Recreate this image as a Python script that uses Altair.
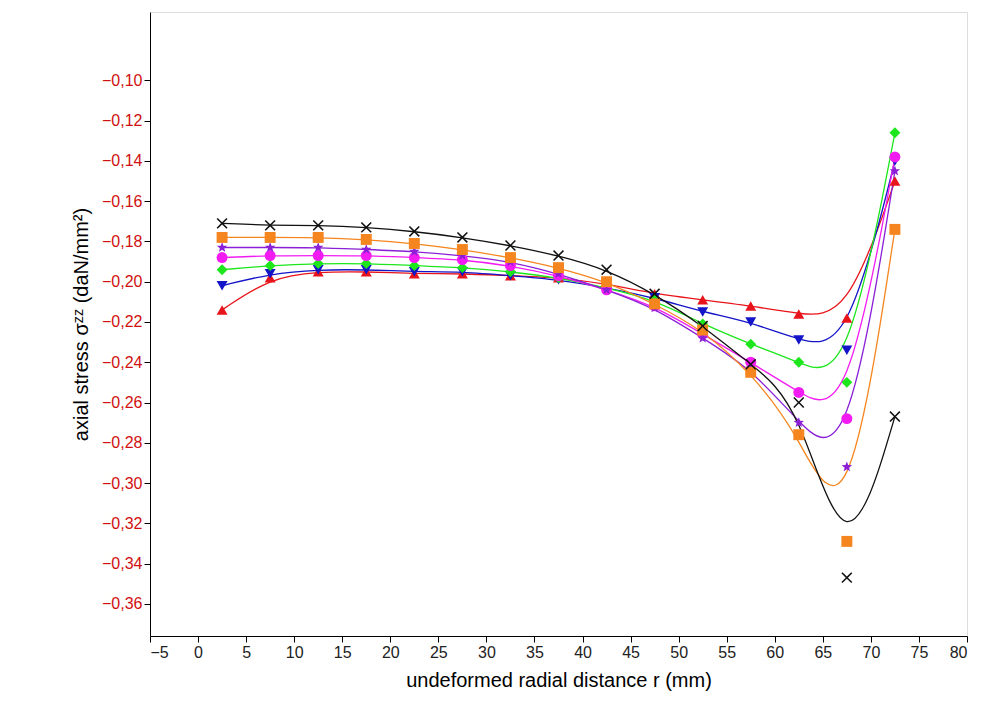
import math
import pandas as pd
import altair as alt

r = [2.5, 7.5, 12.5, 17.5, 22.5, 27.5, 32.5, 37.5, 42.5, 47.5, 52.5, 57.5, 62.5, 67.5, 72.5]

layer_l1 = [-0.214, -0.198, -0.195, -0.195, -0.196, -0.196, -0.197, -0.198, -0.201, -0.206, -0.209, -0.212, -0.216, -0.218, -0.150]
layer_l2 = [-0.202, -0.196, -0.194, -0.194, -0.195, -0.195, -0.197, -0.199, -0.203, -0.208, -0.215, -0.220, -0.229, -0.234, -0.140]
layer_l3 = [-0.194, -0.192, -0.191, -0.191, -0.192, -0.193, -0.195, -0.198, -0.203, -0.209, -0.221, -0.231, -0.240, -0.250, -0.126]
layer_l4 = [-0.188, -0.187, -0.187, -0.187, -0.188, -0.189, -0.192, -0.197, -0.204, -0.212, -0.226, -0.240, -0.255, -0.268, -0.138]
layer_l5 = [-0.183, -0.183, -0.183, -0.184, -0.185, -0.187, -0.190, -0.196, -0.204, -0.213, -0.228, -0.243, -0.270, -0.292, -0.145]
layer_l6 = [-0.178, -0.178, -0.178, -0.179, -0.181, -0.184, -0.188, -0.193, -0.200, -0.211, -0.224, -0.245, -0.276, -0.329, -0.174]
layer_l7 = [-0.171, -0.172, -0.172, -0.173, -0.175, -0.178, -0.182, -0.187, -0.194, -0.206, -0.222, -0.241, -0.260, -0.347, -0.267]

layers = ["Layer L1", "Layer L2", "Layer L3", "Layer L4", "Layer L5", "Layer L6", "Layer L7"]
series = [layer_l1, layer_l2, layer_l3, layer_l4, layer_l5, layer_l6, layer_l7]
colors = ["#e8141b", "#1414c8", "#1de61d", "#f21bf2", "#8a1fd6", "#f5861f", "#111111"]

# star and thin x symbols as svg paths
star = "M" + "L".join(
    f"{(1 if i % 2 == 0 else 0.42) * math.sin(i * math.pi / 5):.3f},"
    f"{-(1 if i % 2 == 0 else 0.42) * math.cos(i * math.pi / 5):.3f}"
    for i in range(10)) + "Z"
thin_x = "M-1,-0.8L-0.8,-1L0,-0.2L0.8,-1L1,-0.8L0.2,0L1,0.8L0.8,1L0,0.2L-0.8,1L-1,0.8L-0.2,0Z"
shapes = ["triangle-up", "triangle-down", "diamond", "circle", star, "square", thin_x]

# legend fills row by row, so order it to read column-wise like the original
legend_order = [0, 4, 1, 5, 2, 6, 3]
dom = [layers[i] for i in legend_order]
col_range = [colors[i] for i in legend_order]
shape_range = [shapes[i] for i in legend_order]

rows = []
for name, vals in zip(layers, series):
    for x, y in zip(r, vals):
        rows.append({"r": x, "stress": y, "layer": name})
df = pd.DataFrame(rows)

x_enc = alt.X("r:Q", scale=alt.Scale(domain=[-5, 80], nice=False),
              axis=alt.Axis(values=list(range(-5, 81, 5)), title="undeformed radial distance r (mm)",
                            grid=False, tickSize=6, labelFontSize=16, titleFontSize=20,
                            titleFontWeight="normal", labelColor="#222", titlePadding=10))
y_enc = alt.Y("stress:Q", scale=alt.Scale(domain=[-0.376, -0.066], nice=False, zero=False),
              axis=alt.Axis(values=[round(-0.36 + 0.02 * i, 2) for i in range(14)],
                            labelExpr="replace(format(datum.value, '.2f'), '.', ',')",
                            title="axial stress σᶻᶻ (daN/mm²)", grid=False, tickSize=6,
                            labelFontSize=16, labelColor="#d01010", titleFontSize=20,
                            titleFontWeight="normal", titlePadding=10))

color = alt.Color("layer:N", scale=alt.Scale(domain=dom, range=col_range),
                  legend=alt.Legend(title=None, orient="none", legendX=22, legendY=0, columns=2,
                                    labelFontSize=18, symbolSize=160, strokeColor="black",
                                    padding=8, columnPadding=30, rowPadding=4,
                                    fillColor="white", symbolStrokeWidth=0))
shape = alt.Shape("layer:N", scale=alt.Scale(domain=dom, range=shape_range))

lines = alt.Chart(df).mark_line(interpolate="basis", strokeWidth=1.3).encode(
    x=x_enc, y=y_enc,
    stroke=alt.Stroke("layer:N", scale=alt.Scale(domain=dom, range=col_range), legend=None))
points = alt.Chart(df).mark_point(filled=True, size=120, opacity=1).encode(
    x=x_enc, y=y_enc, color=color, shape=shape)

chart = (lines + points).properties(
    width=817, height=624,
    padding={"left": 142, "top": 4, "right": 22, "bottom": 80},
    autosize=alt.AutoSizeParams(type="none"),
).configure_view(stroke="black", strokeWidth=1.2).configure(
    font="Liberation Sans").configure_axis(domainColor="black", tickColor="black")

chart.save("out.html", embed_options={"renderer": "svg", "actions": False})
